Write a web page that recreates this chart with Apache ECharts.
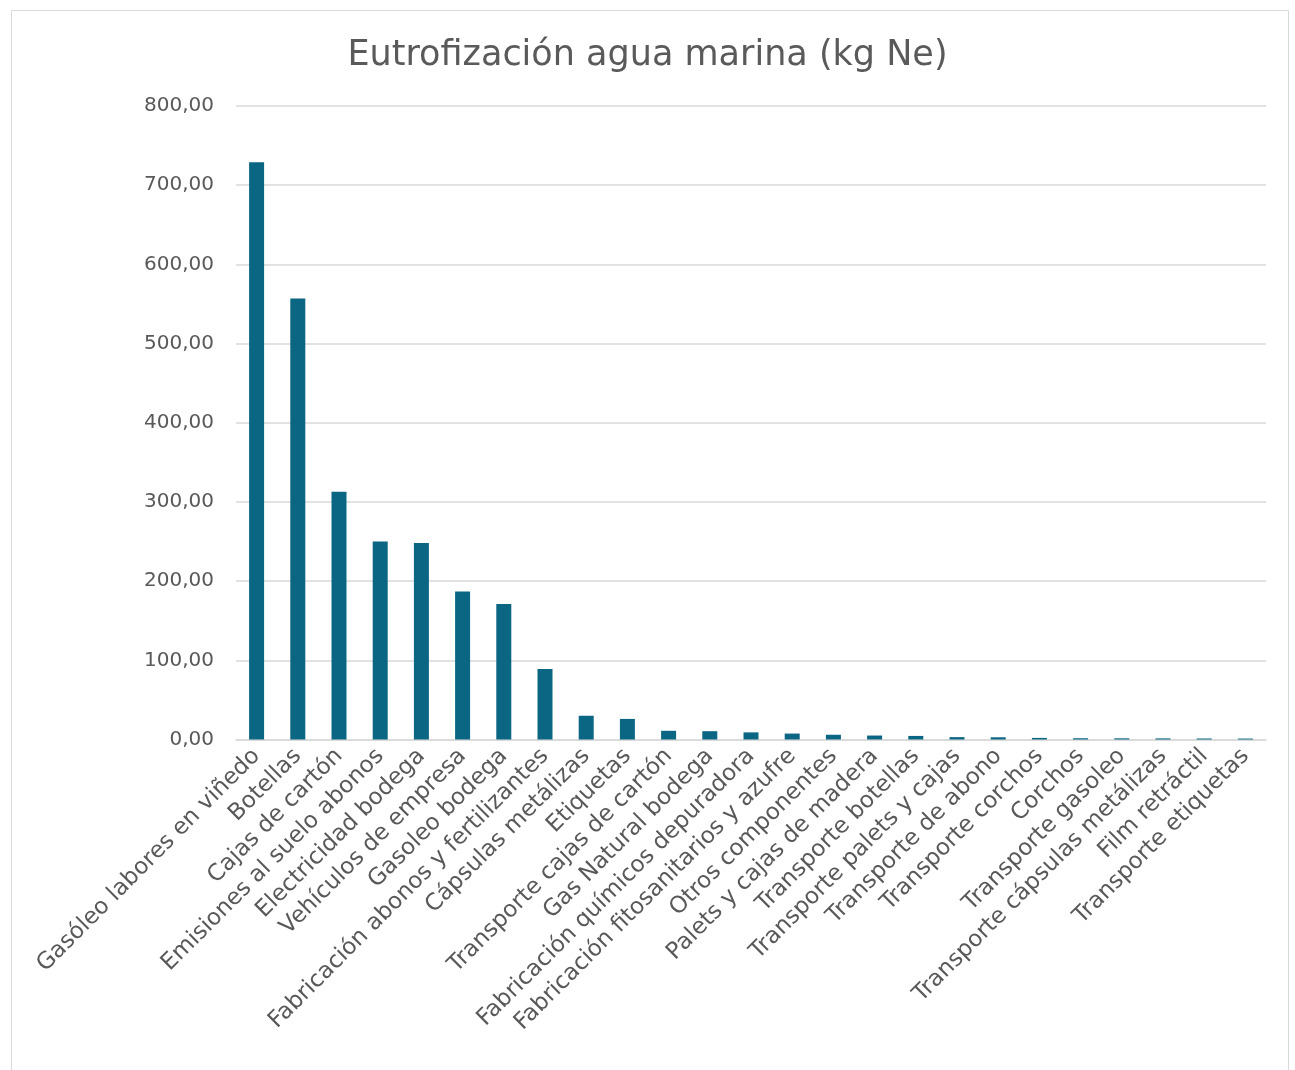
<!DOCTYPE html>
<html>
<head>
<meta charset="utf-8">
<script src="https://cdn.jsdelivr.net/npm/echarts@6/dist/echarts.min.js"></script>
<style>
html,body{margin:0;padding:0;background:#fff;}
#chart{width:1295px;height:1070px;}
</style>
</head>
<body>
<div id="chart"></div>
<script>
const categories = [
  "Gasóleo labores en viñedo","Botellas","Cajas de cartón","Emisiones al suelo abonos",
  "Electricidad bodega","Vehículos de empresa","Gasoleo bodega","Fabricación abonos y fertilizantes",
  "Cápsulas metálizas","Etiquetas","Transporte cajas de cartón","Gas Natural bodega",
  "Fabricación químicos depuradora","Fabricación fitosanitarios y azufre","Otros componentes",
  "Palets y cajas de madera","Transporte botellas","Transporte palets y cajas","Transporte de abono",
  "Transporte corchos","Corchos","Transporte gasoleo","Transporte cápsulas metálizas",
  "Film retráctil","Transporte etiquetas"
];
const values = [729, 557, 313, 250, 248, 187, 171, 89, 30, 26, 11, 10.5, 9, 7.5, 6, 5, 4.5, 3, 2.8, 2, 1.6, 1.5, 1.4, 1.3, 1.2];
const yMin = 0, yMax = 800, yInterval = 100;

const chart = echarts.init(document.getElementById('chart'));
const font = 'DejaVu Sans';
chart.setOption({
  backgroundColor: '#fff',
  animation: false,
  title: {
    text: 'Eutrofización agua marina (kg Ne)',
    left: 'center', top: 33,
    textStyle: {fontFamily: font, fontSize: 35, fontWeight: 'normal', color: '#5a5a5a'}
  },
  graphic: [{
    type: 'rect', left: 9, top: 8, z: -1,
    shape: {width: 1277, height: 1060},
    style: {fill: 'none', stroke: '#d9d9d9', lineWidth: 1}
  }],
  grid: {left: 236, right: 29, top: 106, bottom: 330.5, containLabel: false},
  xAxis: {
    type: 'category', data: categories,
    axisLine: {lineStyle: {color: '#d9d9d9', width: 1.5}},
    axisTick: {show: false},
    axisLabel: {interval: 0, rotate: 45, margin: 13, color: '#595959', fontFamily: font, fontSize: 23}
  },
  yAxis: {
    type: 'value', min: yMin, max: yMax, interval: yInterval,
    axisLine: {show: false}, axisTick: {show: false},
    splitLine: {lineStyle: {color: '#d9d9d9', width: 1.5}},
    axisLabel: {
      margin: 22, color: '#595959', fontFamily: font, fontSize: 20,
      formatter: v => v.toFixed(2).replace('.', ',')
    }
  },
  series: [{
    type: 'bar', data: values, barWidth: 15,
    itemStyle: {color: '#0b6684'}
  }]
});
</script>
</body>
</html>
